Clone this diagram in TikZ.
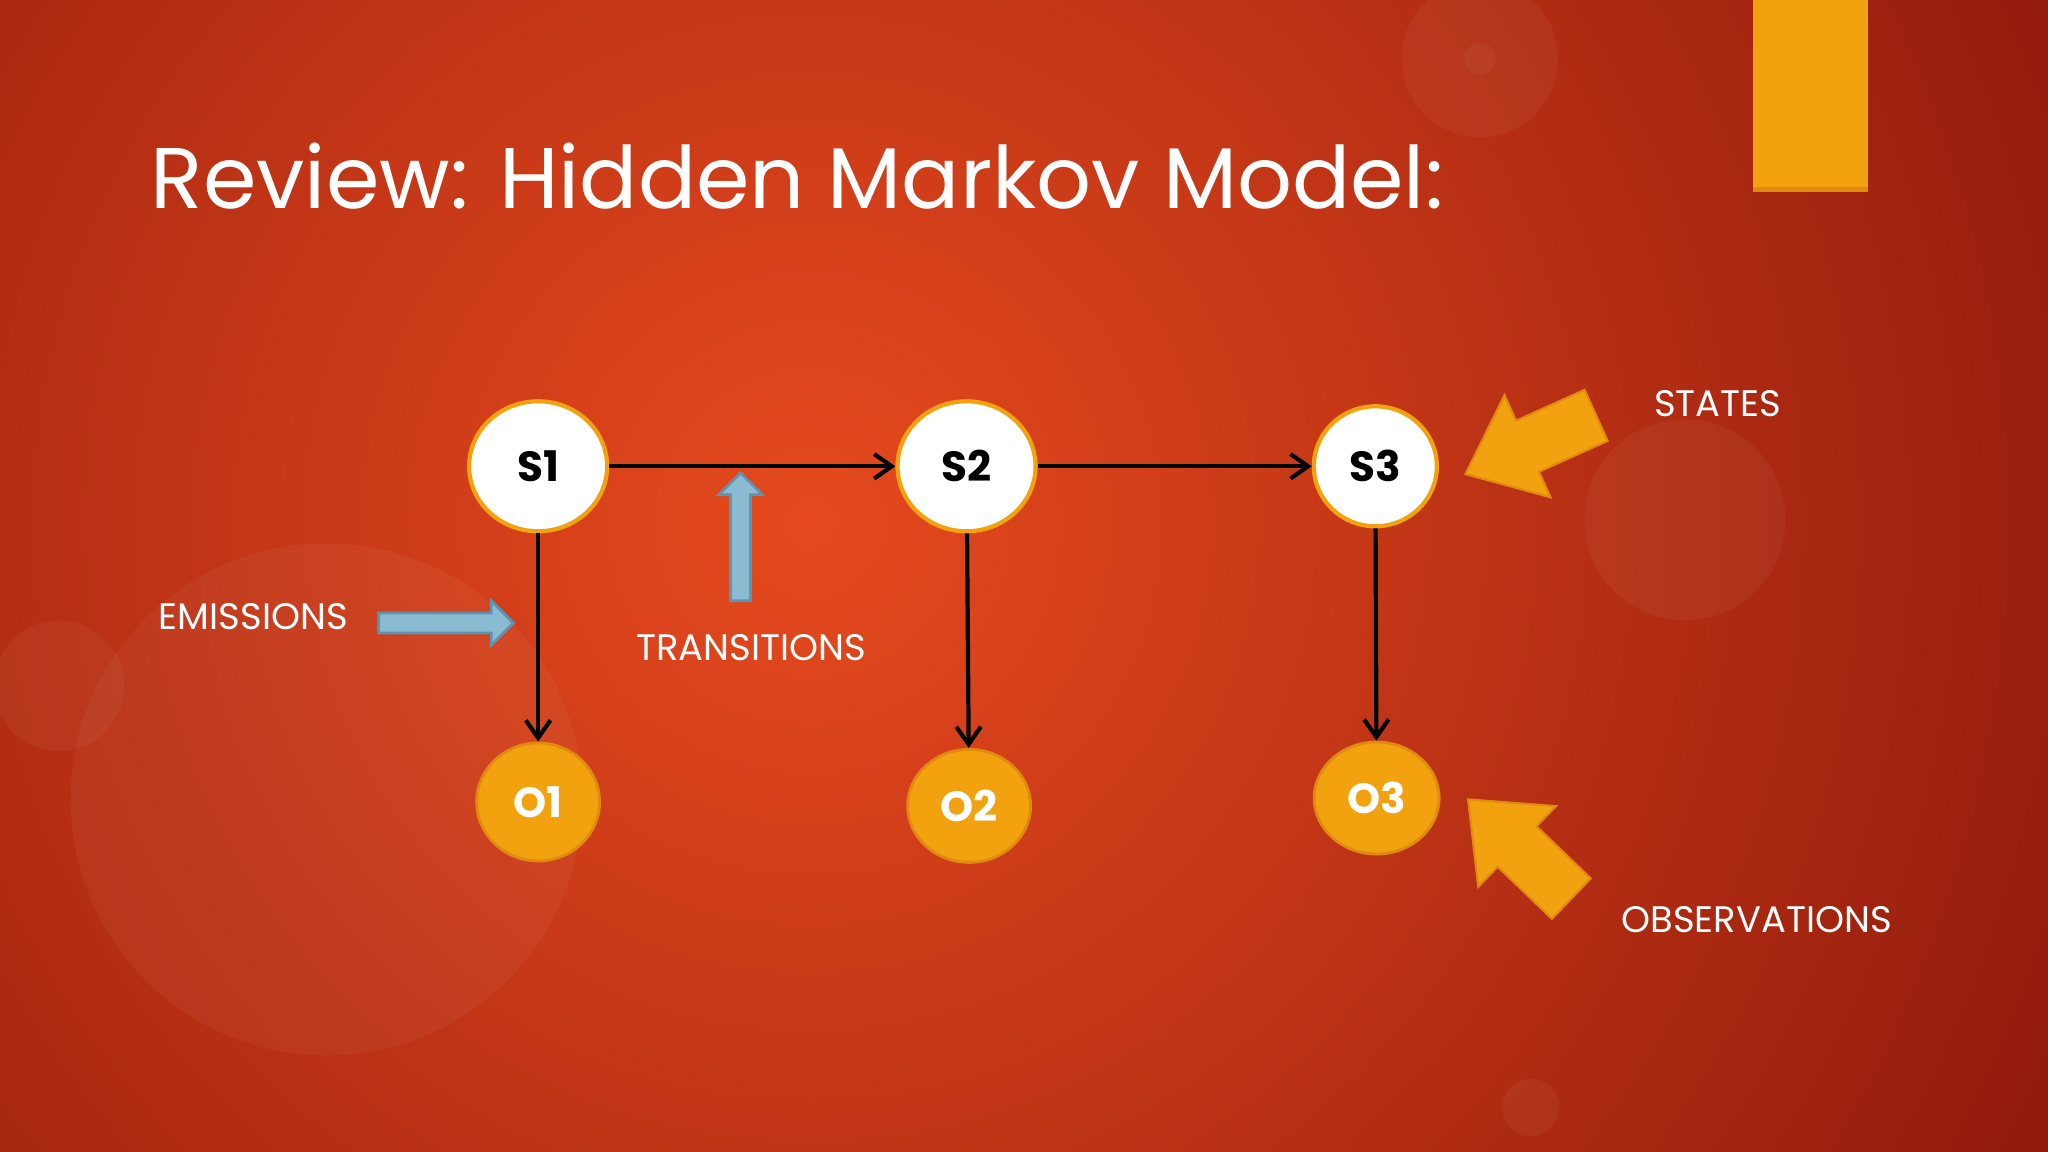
\documentclass[tikz,border=0pt]{standalone}
\usepackage{fontspec}
\setmainfont{Poppins}
\usetikzlibrary{shapes.geometric,arrows.meta,calc}
\definecolor{bgin}{HTML}{E64A1E}
\definecolor{bgout}{HTML}{8A160A}
\definecolor{gold}{HTML}{F2A20E}
\definecolor{goldedge}{HTML}{E08A10}
\definecolor{bluearr}{HTML}{8BBBD0}
\definecolor{blueedge}{HTML}{5E94B0}
\tikzset{
 state/.style={ellipse,fill=white,draw=gold,line width=1.2pt,font=\bfseries\fontsize{12}{14}\selectfont,inner sep=0pt},
 obs/.style={ellipse,fill=gold,draw=goldedge,line width=0.8pt,text=white,font=\bfseries\fontsize{12}{14}\selectfont,inner sep=0pt},
 link/.style={-{Straight Barb[length=5pt,width=7pt]},line width=1.2pt,black},
 lbl/.style={text=white,font=\fontsize{10.5}{12}\selectfont},
 goldarrow/.style={fill=gold,draw=goldedge,line width=0.6pt},
 bluearrow/.style={fill=bluearr,draw=blueedge,line width=0.8pt}
}
% #1 style, #2 tail, #3 tip, #4 shaft half width, #5 head half width, #6 head length
\newcommand{\blockarrow}[6]{%
 \coordinate (bqA) at ($(#3)!#6!(#2)$);
 \filldraw[#1] ($(#2)!#4!90:(#3)$) -- ($(bqA)!#4!-90:(#2)$) -- ($(bqA)!#5!-90:(#2)$) -- (#3)
   -- ($(bqA)!#5!90:(#2)$) -- ($(bqA)!#4!90:(#2)$) -- ($(#2)!#4!-90:(#3)$) -- cycle;}
\begin{document}
\begin{tikzpicture}[x=0.01306cm,y=-0.01306cm]
\useasboundingbox (0,0) rectangle (1568,882);
\begin{scope}
\clip (0,0) rectangle (1568,882);
\shade[inner color=bgin,outer color=bgout] (620,400) circle (1150);
\fill[white,opacity=0.045] (1133,45) circle (60);
\fill[white,opacity=0.045] (1133,45) circle (12);
\fill[white,opacity=0.045] (1290,398) circle (77);
\fill[white,opacity=0.045] (250,612) circle (196);
\fill[white,opacity=0.045] (45,525) circle (50);
\fill[white,opacity=0.045] (1172,848) circle (22);
\end{scope}
\fill[gold] (1342,0) rectangle (1430,146);
\fill[goldedge] (1342,143) rectangle (1430,147);
\node[anchor=base west,text=white,font=\fontsize{24.5}{28}\selectfont,inner sep=0pt] (title) at (115,160) {Review: Hidden Markov Model:};
\node[state,minimum width=1.38cm,minimum height=1.3cm] (s1) at (412,357) {S1};
\node[state,minimum width=1.38cm,minimum height=1.3cm] (s2) at (740,357) {S2};
\node[state,minimum width=1.23cm,minimum height=1.2cm] (s3) at (1053,357) {S3};
\node[obs,minimum width=1.23cm,minimum height=1.18cm] (o1) at (412,614) {O1};
\node[obs,minimum width=1.23cm,minimum height=1.13cm] (o2) at (742,617) {O2};
\node[obs,minimum width=1.25cm,minimum height=1.12cm] (o3) at (1054,611) {O3};
\draw[link] (s1) -- (s2);
\draw[link] (s2) -- (s3);
\draw[link] (s1) -- (o1);
\draw[link] (s2) -- (o2);
\draw[link] (s3) -- (o3);
\coordinate (stT) at (1222,318);
\coordinate (stP) at (1122,363);
\coordinate (obT) at (1203,688);
\coordinate (obP) at (1124,612);
\coordinate (emT) at (290,477);
\coordinate (emP) at (393,477);
\coordinate (trT) at (567,460);
\coordinate (trP) at (567,362);
\blockarrow{goldarrow}{stT}{stP}{0.28cm}{0.56cm}{0.68cm}
\blockarrow{goldarrow}{obT}{obP}{0.28cm}{0.56cm}{0.68cm}
\blockarrow{bluearrow}{emT}{emP}{0.1cm}{0.22cm}{0.22cm}
\blockarrow{bluearrow}{trT}{trP}{0.1cm}{0.22cm}{0.22cm}
\node[lbl] (lem) at (194,472) {EMISSIONS};
\node[lbl] (ltr) at (575,496) {TRANSITIONS};
\node[lbl] (lst) at (1315,309) {STATES};
\node[lbl] (lob) at (1345,704) {OBSERVATIONS};
\end{tikzpicture}
\end{document}
